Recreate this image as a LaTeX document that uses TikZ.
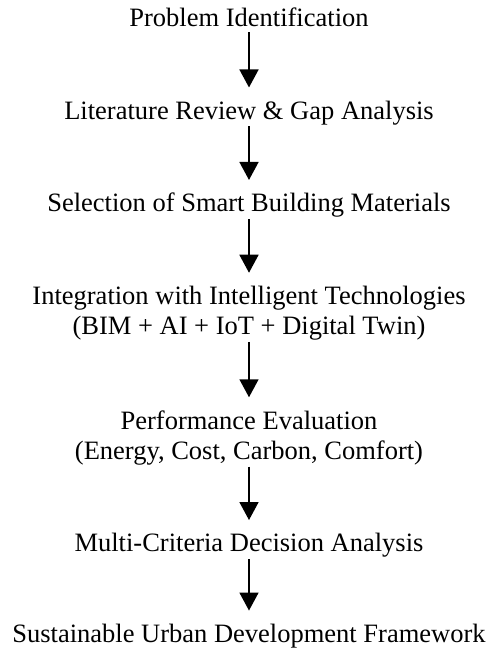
\documentclass[tikz,border=0pt]{standalone}
\usepackage{fontspec}
\setmainfont{Liberation Serif}
\usetikzlibrary{arrows.meta, positioning}

\begin{document}
\begin{tikzpicture}[
    x=1pt, y=1pt,
    node distance=68pt,
    stage/.style={align=center, inner sep=0pt, font=\fontsize{26.5}{30}\selectfont},
    flow/.style={-{Triangle[width=19pt,length=18pt]}, line width=1.6pt, shorten >=13pt, shorten <=1.5pt}
]
\useasboundingbox (0,0) rectangle (488,-648);

% ============== Etapas ==============
\node[stage, anchor=base] (prob) at (249,-26) {Problem Identification};
\node[stage, below=74pt of prob] (lit)  {Literature Review \& Gap Analysis};
\node[stage, below=of lit]       (mat)  {Selection of Smart Building Materials};
\node[stage, below=of mat]       (tech) {Integration with Intelligent Technologies\\(BIM + AI + IoT + Digital Twin)};
\node[stage, below=70pt of tech] (perf) {Performance Evaluation\\(Energy, Cost, Carbon, Comfort)};
\node[stage, below=of perf]      (mcda) {Multi-Criteria Decision Analysis};
\node[stage, below=66pt of mcda] (frame) {Sustainable Urban Development Framework};

% ============== Flechas ==============
\draw[flow, shorten <=6pt] (prob) -- (lit);
\draw[flow] (lit)  -- (mat);
\draw[flow] (mat)  -- (tech);
\draw[flow] (tech) -- (perf);
\draw[flow] (perf) -- (mcda);
\draw[flow] (mcda) -- (frame);
\end{tikzpicture}
\end{document}
